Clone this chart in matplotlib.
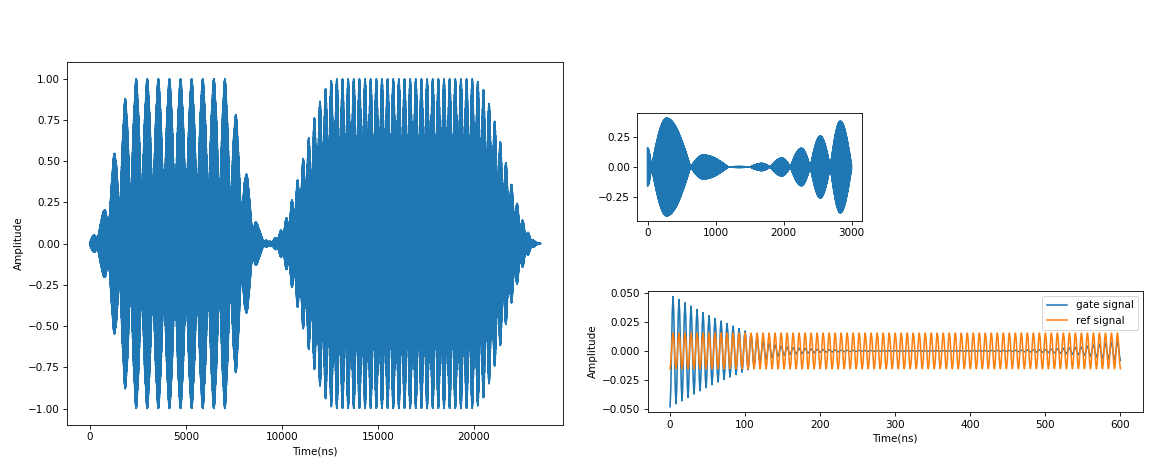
import numpy as np
import matplotlib
matplotlib.use("Agg")
import matplotlib.pyplot as plt
from matplotlib.ticker import MultipleLocator

W, H = 1160, 469
DPI = 75

# ---------- left panel: two bursts of a two-tone pulse (values read per beat lobe)
burst1_t0 = 675.0          # ns, first beat maximum
burst1_beat = 578.4        # ns, beat period
burst1_floor = 0.30        # envelope dip between lobes (fraction of lobe peak)
burst1_peaks = [0.18, 0.54, 0.88, 1.0, 1.0, 1.0, 1.0, 1.0, 1.0, 1.0, 1.0, 1.0,
                0.78, 0.41, 0.098]

burst2_t0 = 9634.0
burst2_beat = 293.7
burst2_floor = 0.50
burst2_peaks = ([0.033, 0.078, 0.153, 0.262, 0.384, 0.515, 0.641, 0.763, 0.864,
                 0.941, 0.99] + [1.0] * 25 +
                [0.985, 0.935, 0.85, 0.742, 0.617, 0.489, 0.357, 0.242, 0.139,
                 0.064, 0.017])

burst_split = 9310.0       # ns, pinch between the two bursts
edge_amp = [0.01, 0.01, 0.01, 0.0]   # amplitude at t=0, split (both sides), end
pulse_end = 23484.0
pulse_carrier = 10.0       # ns

# ---------- top-right panel: lobes (start zero, peak time, end zero, peak amplitude)
tr_start = [-60, 59, 634, 1189, 1509, 1804, 2100, 2394, 2688]
tr_peak_t = [0, 280, 820, 1350, 1681, 1976, 2263, 2541, 2836]
tr_end = [59, 634, 1189, 1509, 1804, 2100, 2394, 2688, 3005]
tr_amp = [0.16, 0.41, 0.10, 0.004, 0.03, 0.075, 0.157, 0.26, 0.385]
tr_carrier = 4.0

# ---------- bottom-right panel: gate ring-down vs reference
gate_t = [0, 8, 16, 24, 32, 40, 48, 56, 64, 72, 80, 88, 96, 104, 112, 120, 130,
          145, 160, 180, 200, 230, 260, 300, 400, 460, 500, 530, 550, 570, 590, 600]
gate_amp = [0.048, 0.0455, 0.0428, 0.040, 0.037, 0.0343, 0.0316, 0.029, 0.0268,
            0.0246, 0.0224, 0.0203, 0.0183, 0.016, 0.013, 0.0095, 0.0065, 0.0045,
            0.003, 0.002, 0.0012, 0.0006, 0.0003, 0.0002, 0.0002, 0.0005, 0.0012,
            0.0025, 0.0035, 0.0055, 0.0075, 0.008]
ref_amp = 0.0153
rf_period = 8.0


def two_tone(t, env, t0, beat, floor):
    a = (1 + floor) / 2
    b = (1 - floor) / 2
    wc = 2 * np.pi / pulse_carrier
    dw = 2 * np.pi / beat
    return env * (a * np.cos(wc * t) + b * np.cos(wc * t + dw * (t - t0)))


def build_pulse():
    t = np.arange(0, pulse_end + 1, 1.0)
    k1 = burst1_t0 + burst1_beat * np.arange(len(burst1_peaks))
    k2 = burst2_t0 + burst2_beat * np.arange(len(burst2_peaks))
    env1 = np.interp(t, np.r_[0, k1, burst_split],
                     np.r_[edge_amp[0], burst1_peaks, edge_amp[1]])
    env2 = np.interp(t, np.r_[burst_split, k2, pulse_end],
                     np.r_[edge_amp[2], burst2_peaks, edge_amp[3]])
    s1 = two_tone(t, env1, burst1_t0, burst1_beat, burst1_floor)
    s2 = two_tone(t, env2, burst2_t0, burst2_beat, burst2_floor)
    return t, np.where(t < burst_split, s1, s2)


def build_lobes():
    t = np.arange(0, 3000.01, 0.5)
    env = np.zeros_like(t)
    for s, p, e, a in zip(tr_start, tr_peak_t, tr_end, tr_amp):
        rise = (t >= s) & (t < p)
        fall = (t >= p) & (t <= e)
        env[rise] = a * np.sin(np.pi / 2 * (t[rise] - s) / (p - s))
        env[fall] = a * np.cos(np.pi / 2 * (t[fall] - p) / (e - p))
    return t, env * np.cos(2 * np.pi * t / tr_carrier)


def ax_rect(x0, x1, y0, y1):
    return [x0 / W, 1 - y1 / H, (x1 - x0) / W, (y1 - y0) / H]


fig = plt.figure(figsize=(W / DPI, H / DPI), dpi=DPI)

ax1 = fig.add_axes(ax_rect(67.3, 563.3, 62.3, 425))
t, sig = build_pulse()
ax1.plot(t, sig)
ax1.set_xlabel("Time(ns)")
ax1.set_ylabel("Amplitude")
ax1.xaxis.set_major_locator(MultipleLocator(5000))
ax1.yaxis.set_major_locator(MultipleLocator(0.25))

ax2 = fig.add_axes(ax_rect(637.3, 861.7, 113.3, 220.7))
t, sig = build_lobes()
ax2.plot(t, sig)
ax2.xaxis.set_major_locator(MultipleLocator(1000))
ax2.yaxis.set_major_locator(MultipleLocator(0.25))

ax3 = fig.add_axes(ax_rect(647.5, 1143, 291, 412.3))
t = np.arange(0, 601, 1.0)
gate = -np.interp(t, gate_t, gate_amp) * np.cos(2 * np.pi * t / rf_period)
ref = -ref_amp * np.cos(2 * np.pi * t / rf_period)
ax3.plot(t, gate, label="gate signal")
ax3.plot(t, ref, label="ref signal")
ax3.set_xlabel("Time(ns)")
ax3.set_ylabel("Amplitude")
ax3.xaxis.set_major_locator(MultipleLocator(100))
ax3.yaxis.set_major_locator(MultipleLocator(0.025))
ax3.legend(loc="upper right")

fig.savefig("out.png", dpi=DPI)
